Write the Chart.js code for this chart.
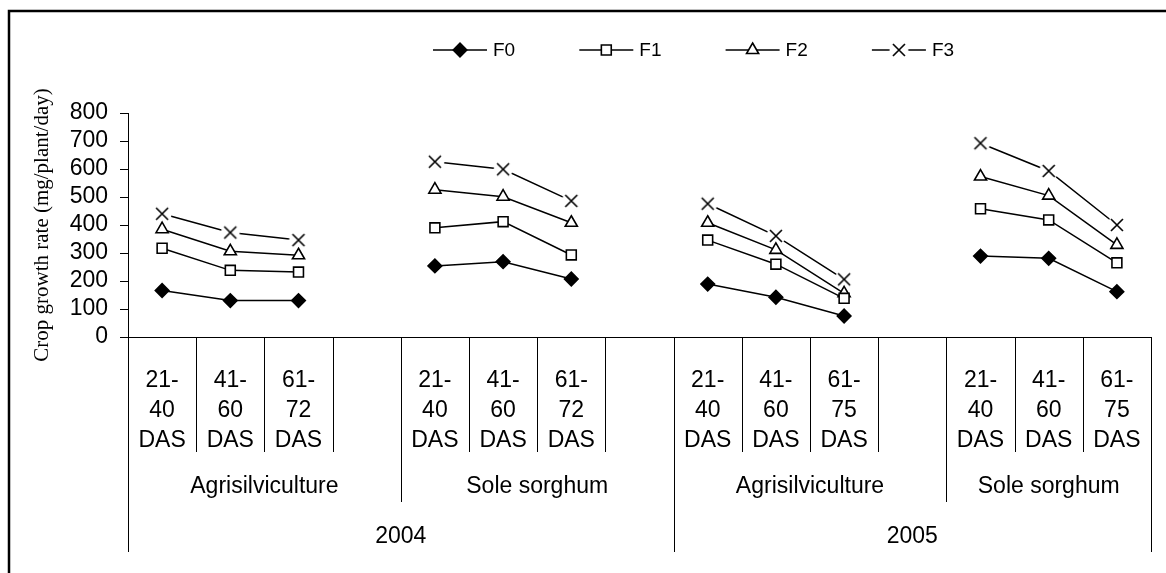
<!DOCTYPE html>
<html>
<head>
<meta charset="utf-8">
<script src="https://cdn.jsdelivr.net/npm/chart.js@4.4.1/dist/chart.umd.min.js"></script>
<style>
  html, body { margin: 0; padding: 0; background: #fff; }
  canvas { display: block; }
</style>
</head>
<body>
<canvas id="cgrChart" width="1166" height="573"></canvas>
<script>
// Category axis: growth period, system, year
const periodLabels = [
    ['21-', '40', 'DAS'], ['41-', '60', 'DAS'], ['61-', '72', 'DAS'], '',
    ['21-', '40', 'DAS'], ['41-', '60', 'DAS'], ['61-', '72', 'DAS'], '',
    ['21-', '40', 'DAS'], ['41-', '60', 'DAS'], ['61-', '75', 'DAS'], '',
    ['21-', '40', 'DAS'], ['41-', '60', 'DAS'], ['61-', '75', 'DAS']
];
const systemLabels = ['Agrisilviculture', 'Sole sorghum', 'Agrisilviculture', 'Sole sorghum'];
const systemSpans = [[0, 3], [4, 7], [8, 11], [12, 14]];
const yearLabels = ['2004', '2005'];
const yearSpans = [[0, 7], [8, 14]];

// Crop growth rate (mg/plant/day)
const seriesNames = ['F0', 'F1', 'F2', 'F3'];
const f0 = [166, 130, 130, null, 254, 269, 207, null, 189, 142, 75, null, 289, 281, 162];
const f1 = [317, 238, 232, null, 390, 412, 293, null, 346, 260, 138, null, 458, 418, 265];
const f2 = [385, 306, 292, null, 526, 501, 408, null, 408, 311, 156, null, 573, 505, 329];
const f3 = [440, 373, 346, null, 626, 599, 486, null, 476, 361, 206, null, 692, 593, 400];

const yMin = 0;
const yMax = 800;
const yStep = 100;

const sansFont = "'Liberation Sans', Arial, sans-serif";
const serifFont = "'Liberation Serif', 'Times New Roman', serif";

// X marker with a white halo so the line stops short of it (Excel look)
function crossMarker() {
    const c = document.createElement('canvas');
    c.width = 22;
    c.height = 22;
    const g = c.getContext('2d');
    g.fillStyle = '#fff';
    g.beginPath();
    g.arc(11, 11, 9.5, 0, Math.PI * 2);
    g.fill();
    g.strokeStyle = '#000';
    g.lineWidth = 1.6;
    g.beginPath();
    g.moveTo(5, 5); g.lineTo(17, 17);
    g.moveTo(17, 5); g.lineTo(5, 17);
    g.stroke();
    return c;
}

function serie(label, data, style, radius, fill) {
    return {
        label: label,
        data: data,
        borderColor: '#000',
        borderWidth: 1.5,
        pointStyle: style,
        pointRadius: radius,
        pointHoverRadius: radius,
        pointBorderColor: '#000',
        pointBorderWidth: 1.6,
        pointBackgroundColor: fill,
        spanGaps: false,
        tension: 0
    };
}

// Frame, multi-level axis and legend
const extras = {
    id: 'extras',
    beforeDraw(chart) {
        const ctx = chart.ctx;
        ctx.save();
        ctx.strokeStyle = '#000';
        ctx.lineWidth = 2.5;
        ctx.strokeRect(9, 11, 1300, 700);
        ctx.restore();
    },
    afterDraw(chart) {
        const ctx = chart.ctx;
        const x = chart.scales.x;
        const bottom = chart.chartArea.bottom;
        const half = (x.getPixelForValue(1) - x.getPixelForValue(0)) / 2;
        const edge = i => i < periodLabels.length ? x.getPixelForValue(i) - half : x.getPixelForValue(i - 1) + half;

        ctx.save();
        ctx.strokeStyle = '#000';
        ctx.lineWidth = 1;

        function vline(px, len) {
            const xx = Math.round(px) + 0.5;
            ctx.beginPath();
            ctx.moveTo(xx, bottom);
            ctx.lineTo(xx, bottom + len);
            ctx.stroke();
        }

        for (let i = 0; i <= periodLabels.length; i++) vline(edge(i), 115);
        systemSpans.forEach(s => { vline(edge(s[0]), 165); vline(edge(s[1] + 1), 165); });
        yearSpans.forEach(s => { vline(edge(s[0]), 215); vline(edge(s[1] + 1), 215); });

        ctx.fillStyle = '#000';
        ctx.textAlign = 'center';
        ctx.textBaseline = 'middle';
        ctx.font = '23px ' + sansFont;
        systemLabels.forEach((t, k) => {
            ctx.fillText(t, (edge(systemSpans[k][0]) + edge(systemSpans[k][1] + 1)) / 2, bottom + 150);
        });
        yearLabels.forEach((t, k) => {
            ctx.fillText(t, (edge(yearSpans[k][0]) + edge(yearSpans[k][1] + 1)) / 2, bottom + 200);
        });

        // legend: line, marker, name
        const ly = 50;
        ctx.font = '19px ' + sansFont;
        ctx.textAlign = 'left';
        chart.data.datasets.forEach((ds, k) => {
            const mx = 460 + k * 146.3;
            ctx.lineWidth = 1.5;
            ctx.strokeStyle = '#000';
            ctx.beginPath();
            ctx.moveTo(mx - 27, ly);
            ctx.lineTo(mx + 27, ly);
            ctx.stroke();
            ctx.fillStyle = ds.pointBackgroundColor;
            ctx.lineWidth = ds.pointBorderWidth;
            Chart.helpers.drawPoint(ctx, {
                pointStyle: ds.pointStyle,
                radius: ds.pointRadius,
                rotation: 0,
                borderWidth: ds.pointBorderWidth
            }, mx, ly);
            ctx.fillStyle = '#000';
            ctx.fillText(ds.label, mx + 33, ly + 1);
        });
        ctx.restore();
    }
};

const chart = new Chart(document.getElementById('cgrChart'), {
    type: 'line',
    data: {
        labels: periodLabels,
        datasets: [
            serie(seriesNames[0], f0, 'rectRot', 6.8, '#000'),
            serie(seriesNames[1], f1, 'rect', 7, '#fff'),
            serie(seriesNames[2], f2, 'triangle', 7, '#fff'),
            serie(seriesNames[3], f3, crossMarker(), 8, '#fff')
        ]
    },
    options: {
        responsive: false,
        animation: false,
        layout: { padding: { top: 113, right: 15, bottom: 0, left: 0 } },
        plugins: {
            legend: { display: false },
            tooltip: { enabled: false }
        },
        scales: {
            x: {
                offset: true,
                grid: { display: false },
                border: { display: true, color: '#000', width: 1 },
                ticks: {
                    color: '#000',
                    font: { family: sansFont, size: 23, lineHeight: '30px' },
                    padding: 21,
                    maxRotation: 0,
                    minRotation: 0,
                    autoSkip: false
                },
                afterFit(scale) { scale.height = 236; }
            },
            y: {
                min: yMin,
                max: yMax,
                grid: {
                    drawOnChartArea: false,
                    drawTicks: true,
                    tickLength: 8,
                    color: '#000'
                },
                border: { display: true, color: '#000', width: 1 },
                ticks: {
                    stepSize: yStep,
                    autoSkip: false,
                    color: '#000',
                    padding: 12,
                    font: { family: sansFont, size: 23, lineHeight: 1 }
                },
                title: {
                    display: true,
                    text: 'Crop growth rate (mg/plant/day)',
                    color: '#000',
                    font: { family: serifFont, size: 21 },
                    padding: { top: 30, bottom: 0 }
                },
                afterFit(scale) { scale.width = 128; }
            }
        }
    },
    plugins: [extras]
});
</script>
</body>
</html>
